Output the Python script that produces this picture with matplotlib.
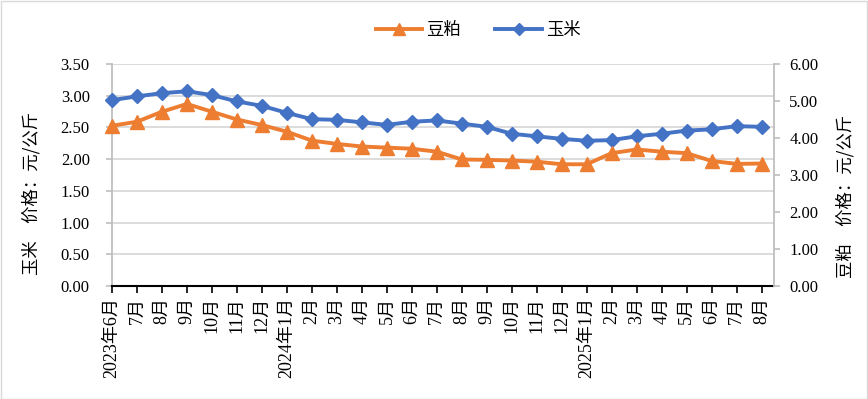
import matplotlib
matplotlib.use("Agg")
import matplotlib.pyplot as plt
from matplotlib.patches import Rectangle

# ---- data ----
months = ['2023年6月', '7月', '8月', '9月', '10月', '11月', '12月',
          '2024年1月', '2月', '3月', '4月', '5月', '6月', '7月', '8月',
          '9月', '10月', '11月', '12月',
          '2025年1月', '2月', '3月', '4月', '5月', '6月', '7月', '8月']
corn = [2.93, 2.99, 3.04, 3.07, 3.01, 2.91, 2.84, 2.73, 2.63, 2.62, 2.58,
        2.54, 2.59, 2.61, 2.56, 2.51, 2.40, 2.36, 2.32, 2.29, 2.30, 2.36,
        2.40, 2.45, 2.47, 2.52, 2.51]
soymeal = [4.33, 4.44, 4.71, 4.92, 4.71, 4.50, 4.35, 4.17, 3.93, 3.84, 3.77,
           3.74, 3.71, 3.63, 3.42, 3.41, 3.39, 3.36, 3.29, 3.29, 3.59, 3.69,
           3.63, 3.59, 3.38, 3.30, 3.31]
left_ticks = [0.0, 0.5, 1.0, 1.5, 2.0, 2.5, 3.0, 3.5]
right_ticks = [0, 1, 2, 3, 4, 5, 6]
name_corn = '玉米'
name_soy = '豆粕'
left_label = '玉米　价格：元/公斤'
right_label = '豆粕　价格：元/公斤'

plt.rcParams['font.family'] = ['Liberation Serif', 'Noto Sans CJK SC']
BLUE = '#4472C4'
ORANGE = '#ED7D31'
GRID = '#D9D9D9'
AX = '#BFBFBF'

W, H = 868, 399
fig = plt.figure(figsize=(W / 100, H / 100), dpi=100)
fig.patches.append(Rectangle((0.5 / W, 0.5 / H), 1 - 1.5 / W, 1 - 1.5 / H,
                             transform=fig.transFigure, fill=False,
                             edgecolor='#D9D9D9', linewidth=1.0))

ax = fig.add_axes([112 / W, 1 - 286 / H, 662 / W, 222 / H])
x = list(range(len(months)))

ax.set_xlim(0, len(months) - 0.5)
ax.set_ylim(0, 3.5)
ax.set_yticks(left_ticks)
ax.set_yticklabels([f'{v:.2f}' for v in left_ticks])
ax.grid(axis='y', color=GRID, linewidth=1.3)
ax.set_axisbelow(True)
ax.set_xticks(x)
ax.set_xticklabels(months, rotation=90, va='top', ha='center')
for s in ['top', 'right']:
    ax.spines[s].set_visible(False)
ax.spines['left'].set_color(AX)
ax.spines['left'].set_linewidth(1.3)
ax.spines['bottom'].set_color('black')
ax.spines['bottom'].set_linewidth(1.5)
ax.tick_params(axis='x', direction='out', length=5, width=1.2, color='black',
               labelsize=13, pad=3)
ax.tick_params(axis='y', direction='out', length=4, width=1.2, color=AX,
               labelsize=12, pad=12)

l1, = ax.plot(x, corn, color=BLUE, linewidth=2.8, marker='D', markersize=7.5,
              label=name_corn, zorder=3, clip_on=False)

ax2 = ax.twinx()
ax2.set_ylim(0, 6)
ax2.set_yticks(right_ticks)
ax2.set_yticklabels([f'{v:.2f}' for v in right_ticks])
for s in ['top', 'left', 'bottom']:
    ax2.spines[s].set_visible(False)
ax2.spines['right'].set_color(AX)
ax2.spines['right'].set_linewidth(1.3)
ax2.tick_params(axis='y', direction='out', length=4, width=1.2, color=AX,
                labelsize=12, pad=7)
l2, = ax2.plot(x, soymeal, color=ORANGE, linewidth=2.8, marker='^',
               markersize=10.5, label=name_soy, zorder=3, clip_on=False)

fig.text(31 / W, 1 - 193 / H, left_label, rotation=90, ha='center',
         va='center', fontsize=12.5, family=['Noto Sans CJK SC'])
fig.text(845 / W, 1 - 196 / H, right_label, rotation=90, ha='center',
         va='center', fontsize=12.5, family=['Noto Sans CJK SC'])

fig.legend([l2, l1], [name_soy, name_corn], loc='center',
           bbox_to_anchor=(478 / W, 1 - 30 / H), ncol=2, frameon=False,
           prop={'family': ['Noto Sans CJK SC'], 'size': 12.5},
           handlelength=2.7, handletextpad=0.2, columnspacing=2.0,
           markerscale=0.8)

fig.savefig('out.png', dpi=100)
